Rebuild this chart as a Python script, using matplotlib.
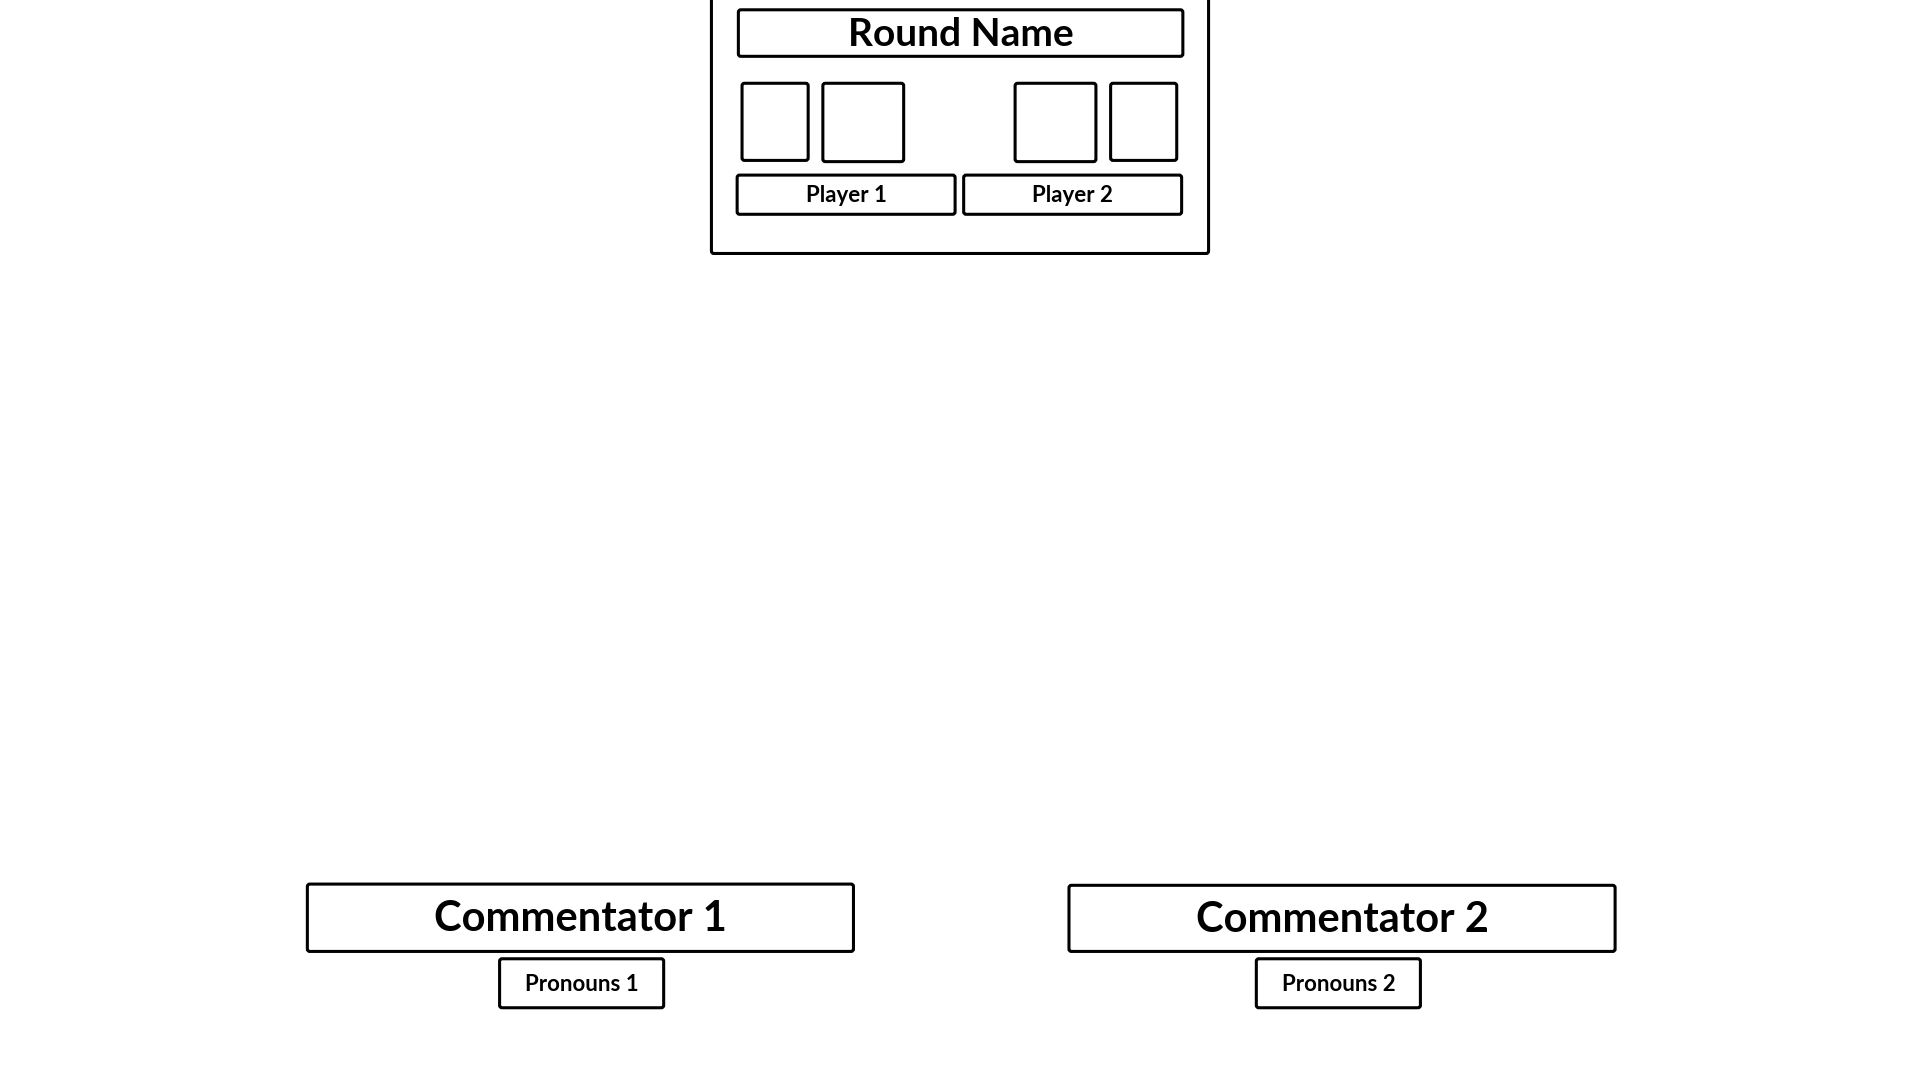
import matplotlib.pyplot as plt
from matplotlib.patches import FancyBboxPatch

# layout canvas units (reference drawn on a 1568 x 882 grid)
W, H = 1568, 882

# label boxes: (text, x0, y0, x1, y1, fontsize)
labels = ["Round Name", "Player 1", "Player 2",
          "Commentator 1", "Commentator 2", "Pronouns 1", "Pronouns 2"]
label_boxes = [(603, 8, 966, 46), (602, 143, 780, 175), (787, 143, 965, 175),
               (251, 722, 697, 777), (873, 723, 1319, 777),
               (408, 783, 542, 823), (1026, 783, 1160, 823)]
label_sizes = [28, 16, 16, 30, 30, 16, 16]

# empty boxes (outer frame + character slots)
empty_boxes = [(581, -5, 987, 207),
               (606, 68, 660, 131), (672, 68, 738, 132),
               (829, 68, 895, 132), (907, 68, 961, 131)]

fig = plt.figure(figsize=(19.2, 10.8), dpi=100)
ax = fig.add_axes([0, 0, 1, 1])
ax.set_xlim(0, W)
ax.set_ylim(H, 0)
ax.axis("off")


def box(x0, y0, x1, y1):
    ax.add_patch(FancyBboxPatch((x0, y0), x1 - x0, y1 - y0,
                                boxstyle="round,pad=0,rounding_size=2",
                                fill=False, ec="black", lw=2.2))


for b in empty_boxes:
    box(*b)

for text, b, fs in zip(labels, label_boxes, label_sizes):
    box(*b)
    ax.text((b[0] + b[2]) / 2, (b[1] + b[3]) / 2 + 1, text, ha="center", va="center",
            fontsize=fs, fontweight="bold", family=["Lato", "DejaVu Sans"])

fig.savefig("out.png", dpi=100, facecolor="white")
